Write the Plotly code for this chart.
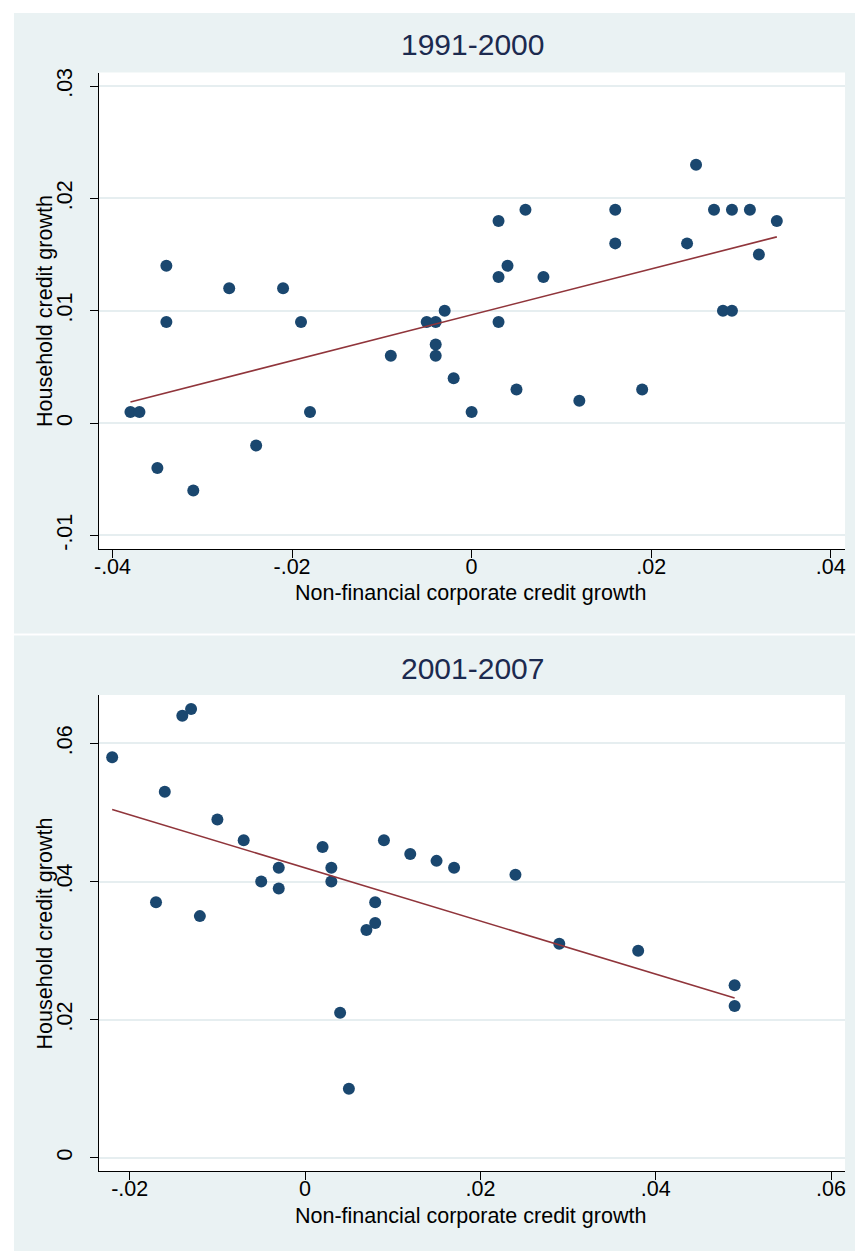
import numpy as np
import plotly.graph_objects as go

# 1991-2000 panel
nfc_9100 = [-0.038, -0.037, -0.035, -0.034, -0.034, -0.031, -0.027, -0.024, -0.021, -0.019,
            -0.018, -0.009, -0.005, -0.004, -0.004, -0.004, -0.003, -0.002, 0.000, 0.003,
            0.003, 0.003, 0.004, 0.005, 0.006, 0.008, 0.012, 0.016, 0.016, 0.019,
            0.024, 0.025, 0.027, 0.028, 0.029, 0.029, 0.031, 0.032, 0.034]
hh_9100 = [0.001, 0.001, -0.004, 0.014, 0.009, -0.006, 0.012, -0.002, 0.012, 0.009,
           0.001, 0.006, 0.009, 0.009, 0.007, 0.006, 0.010, 0.004, 0.001, 0.018,
           0.013, 0.009, 0.014, 0.003, 0.019, 0.013, 0.002, 0.019, 0.016, 0.003,
           0.016, 0.023, 0.019, 0.010, 0.019, 0.010, 0.019, 0.015, 0.018]

# 2001-2007 panel
nfc_0107 = [-0.022, -0.017, -0.016, -0.014, -0.013, -0.012, -0.010, -0.007, -0.005, -0.003,
            -0.003, 0.002, 0.003, 0.003, 0.004, 0.005, 0.007, 0.008, 0.008, 0.009,
            0.012, 0.015, 0.017, 0.024, 0.029, 0.038, 0.049, 0.049]
hh_0107 = [0.058, 0.037, 0.053, 0.064, 0.065, 0.035, 0.049, 0.046, 0.040, 0.042,
           0.039, 0.045, 0.042, 0.040, 0.021, 0.010, 0.033, 0.037, 0.034, 0.046,
           0.044, 0.043, 0.042, 0.041, 0.031, 0.030, 0.025, 0.022]

panel_titles = ["1991-2000", "2001-2007"]
x_title = "Non-financial corporate credit growth"
y_title = "Household credit growth"

x_ticks_top = [-0.04, -0.02, 0.0, 0.02, 0.04]
x_labels_top = ["-.04", "-.02", "0", ".02", ".04"]
y_ticks_top = [-0.01, 0.0, 0.01, 0.02, 0.03]
y_labels_top = ["-.01", "0", ".01", ".02", ".03"]

x_ticks_bot = [-0.02, 0.0, 0.02, 0.04, 0.06]
x_labels_bot = ["-.02", "0", ".02", ".04", ".06"]
y_ticks_bot = [0.0, 0.02, 0.04, 0.06]
y_labels_bot = ["0", ".02", ".04", ".06"]

W, H = 856, 1253
FONT = "Liberation Sans, Arial, sans-serif"
NAVY = "#1a476f"
MAROON = "#90353b"
REGION = "#eaf2f3"
GRID = "#e6eef0"
TITLE_COL = "#1c2a4f"


def py(px):
    return 1 - px / H


def px_x(px):
    return px / W


fig = go.Figure()

panels = [
    dict(x=nfc_9100, y=hh_9100, xa="x", ya="y"),
    dict(x=nfc_0107, y=hh_0107, xa="x2", ya="y2"),
]

for p in panels:
    xs = np.array(p["x"])
    ys = np.array(p["y"])
    slope, intercept = np.polyfit(xs, ys, 1)
    xfit = np.array([xs.min(), xs.max()])
    fig.add_trace(go.Scatter(
        x=xs, y=ys, mode="markers", xaxis=p["xa"], yaxis=p["ya"],
        marker=dict(color=NAVY, size=12, line=dict(width=0)),
        showlegend=False, hoverinfo="x+y"))
    fig.add_trace(go.Scatter(
        x=xfit, y=slope * xfit + intercept, mode="lines", xaxis=p["xa"], yaxis=p["ya"],
        line=dict(color=MAROON, width=1.6), showlegend=False, hoverinfo="skip"))

# graph-region backgrounds
shapes = [
    dict(type="rect", xref="paper", yref="paper", layer="below",
         x0=px_x(9), x1=1, y0=py(632), y1=py(8), fillcolor=REGION, line=dict(width=0)),
    dict(type="rect", xref="paper", yref="paper", layer="below",
         x0=px_x(9), x1=1, y0=0, y1=py(634), fillcolor=REGION, line=dict(width=0)),
    # white plot areas
    dict(type="rect", xref="paper", yref="paper", layer="below",
         x0=px_x(94.7), x1=px_x(846), y0=py(547), y1=py(68), fillcolor="white", line=dict(width=0)),
    dict(type="rect", xref="paper", yref="paper", layer="below",
         x0=px_x(94.7), x1=px_x(846), y0=py(1173), y1=py(694), fillcolor="white", line=dict(width=0)),
]

axis_title_font = dict(family=FONT, size=21.5, color="black")
panel_title_font = dict(family=FONT, size=30, color=TITLE_COL)

annotations = []
for title, ty, plot_top, plot_bot, xt_y in [
    (panel_titles[0], 40, 68, 547, 591.7),
    (panel_titles[1], 667, 694, 1173, 1217.5),
]:
    annotations.append(dict(text=title, xref="paper", yref="paper", x=px_x(470.4), y=py(ty),
                            xanchor="center", yanchor="middle", showarrow=False,
                            font=panel_title_font))
    annotations.append(dict(text=x_title, xref="paper", yref="paper", x=px_x(469), y=py(xt_y),
                            xanchor="center", yanchor="middle", showarrow=False,
                            font=axis_title_font))
    annotations.append(dict(text=y_title, xref="paper", yref="paper", x=px_x(40.5),
                            y=py((plot_top + plot_bot) / 2), textangle=-90,
                            xanchor="center", yanchor="middle", showarrow=False,
                            font=axis_title_font))

tickfont = dict(family=FONT, size=21.5, color="black")

common_x = dict(showline=True, linecolor="black", linewidth=1, ticks="outside", ticklen=8,
                tickcolor="black", tickwidth=1, showgrid=False, zeroline=False,
                tickfont=tickfont, mirror=False, ticklabelstandoff=-10)
common_y = dict(showline=True, linecolor="black", linewidth=1, ticks="outside", ticklen=8,
                tickcolor="black", tickwidth=1, showgrid=True, gridcolor=GRID, gridwidth=1.5,
                zeroline=False, tickfont=tickfont, tickangle=-90, mirror=False,
                ticklabelstandoff=9)

fig.update_layout(
    width=W, height=H, margin=dict(l=0, r=0, t=0, b=0),
    paper_bgcolor="white", plot_bgcolor="white",
    shapes=shapes, annotations=annotations,
    xaxis=dict(domain=[px_x(94.7), px_x(846)], anchor="y", range=[-0.0415, 0.0416],
               tickvals=x_ticks_top, ticktext=x_labels_top, **common_x),
    yaxis=dict(domain=[py(547), py(68)], anchor="x", range=[-0.0112, 0.0312],
               tickvals=y_ticks_top, ticktext=y_labels_top, **common_y),
    xaxis2=dict(domain=[px_x(94.7), px_x(846)], anchor="y2", range=[-0.0235, 0.0616],
                tickvals=x_ticks_bot, ticktext=x_labels_bot, **common_x),
    yaxis2=dict(domain=[py(1173), py(694)], anchor="x2", range=[-0.00197, 0.067],
                tickvals=y_ticks_bot, ticktext=y_labels_bot, **common_y),
)

fig.write_html("out.html")
